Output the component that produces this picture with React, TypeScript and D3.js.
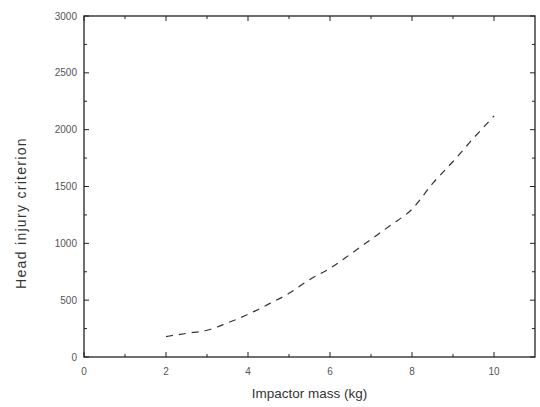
import React from "react";
import * as d3 from "d3";

const massKg = [2, 2.5, 3, 3.5, 4, 4.5, 5, 5.5, 6, 6.5, 7, 7.5, 8, 8.5, 9, 9.5, 10];
const hicValues = [180, 208, 235, 300, 375, 465, 560, 680, 780, 905, 1035, 1165, 1300, 1525, 1720, 1925, 2120];
const xTicks = [0, 2, 4, 6, 8, 10];
const xMinorTicks = [1, 3, 5, 7, 9];
const yTicks = [0, 500, 1000, 1500, 2000, 2500, 3000];
const yMinorTicks = [250, 750, 1250, 1750, 2250, 2750];
const xLabel = "Impactor mass (kg)";
const yLabel = "Head injury criterion";

export default function App() {
  const W = 540, H = 407;
  const left = 84, right = 535, top = 16, bottom = 357;
  const x = d3.scaleLinear().domain([0, 11]).range([left, right]);
  const y = d3.scaleLinear().domain([0, 3000]).range([bottom, top]);
  const line = d3.line<number>().x((_, i) => x(massKg[i])).y((d) => y(d)).curve(d3.curveMonotoneX);
  const axisColor = "#222";
  const font = "Liberation Sans, Arial, sans-serif";
  const major = 5, minor = 3;
  return (
    <svg width={W} height={H} style={{ position: "absolute", left: 0, top: 0, background: "#fff" }}>
      <rect x={left} y={top} width={right - left} height={bottom - top} fill="none" stroke={axisColor} strokeWidth={1.3} />
      {xTicks.map((t) => (
        <g key={"xt" + t}>
          <line x1={x(t)} x2={x(t)} y1={bottom} y2={bottom - major} stroke={axisColor} />
          <line x1={x(t)} x2={x(t)} y1={top} y2={top + major} stroke={axisColor} />
          <text x={x(t)} y={bottom + 18} fontSize={10} fill="#555" textAnchor="middle" fontFamily={font}>{t}</text>
        </g>
      ))}
      {xMinorTicks.map((t) => (
        <g key={"xm" + t}>
          <line x1={x(t)} x2={x(t)} y1={bottom} y2={bottom - minor} stroke={axisColor} />
          <line x1={x(t)} x2={x(t)} y1={top} y2={top + minor} stroke={axisColor} />
        </g>
      ))}
      {yTicks.map((t) => (
        <g key={"yt" + t}>
          <line x1={left} x2={left + major} y1={y(t)} y2={y(t)} stroke={axisColor} />
          <line x1={right} x2={right - major} y1={y(t)} y2={y(t)} stroke={axisColor} />
          <text x={left - 7} y={y(t) + 3.5} fontSize={10} fill="#555" textAnchor="end" fontFamily={font}>{t}</text>
        </g>
      ))}
      {yMinorTicks.map((t) => (
        <g key={"ym" + t}>
          <line x1={left} x2={left + minor} y1={y(t)} y2={y(t)} stroke={axisColor} />
          <line x1={right} x2={right - minor} y1={y(t)} y2={y(t)} stroke={axisColor} />
        </g>
      ))}
      <path d={line(hicValues) || ""} fill="none" stroke="#333" strokeWidth={1.2} strokeDasharray="7,6" />
      <text x={(left + right) / 2} y={398} fontSize={13.5} fill="#333" textAnchor="middle" fontFamily={font}>{xLabel}</text>
      <text transform={`translate(26, 213) rotate(-90)`} fontSize={14} letterSpacing={1.3} fill="#333" textAnchor="middle" fontFamily={font}>{yLabel}</text>
    </svg>
  );
}
